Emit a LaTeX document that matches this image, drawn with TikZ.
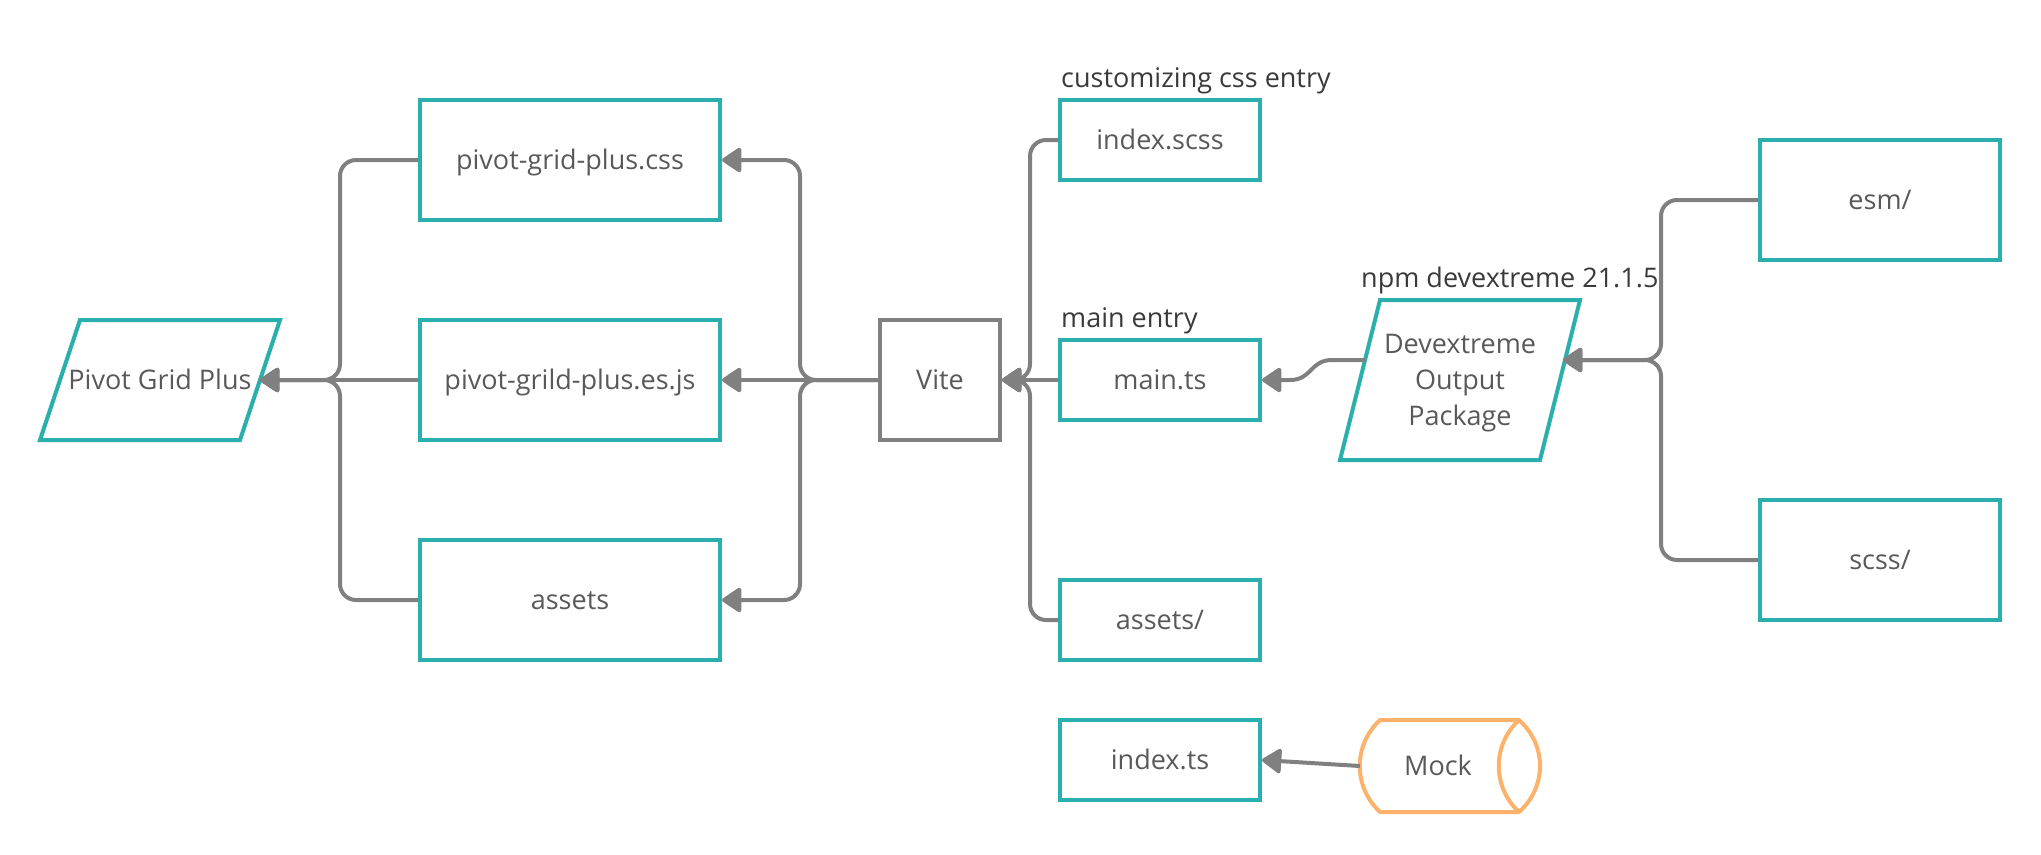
\documentclass[tikz,border=0pt]{standalone}
\usepackage{fontspec}
\setmainfont{Open Sans}
\usetikzlibrary{arrows.meta}
\definecolor{tealc}{RGB}{42,175,172}
\definecolor{linegray}{RGB}{128,128,128}
\definecolor{orngc}{RGB}{252,178,106}
\definecolor{txtc}{RGB}{89,89,89}
\definecolor{lblc}{RGB}{58,58,58}
\newcommand\diagfont{\fontsize{27}{36}\selectfont}
\begin{document}
\begin{tikzpicture}[x=1pt,y=-1pt,
  filebox/.style={draw=tealc, line width=4pt, inner sep=0pt, text=txtc, font=\diagfont,
    text height=26pt, text depth=7pt, minimum width=#1},
  filebox/.default=300pt,
  tall/.style={minimum height=120pt},
  short/.style={minimum height=80pt},
  vitebox/.style={draw=linegray, line width=4pt, inner sep=0pt, text=txtc, font=\diagfont,
    text height=26pt, text depth=7pt, minimum width=120pt, minimum height=120pt},
  plain/.style={inner sep=0pt, text=txtc, font=\diagfont, text height=26pt, text depth=7pt},
  para/.style={draw=tealc, line width=4pt, line join=miter},
  lbl/.style={inner sep=0pt, text=lblc, font=\diagfont, anchor=base west},
  link/.style={draw=linegray, line width=4pt},
  arr/.style={link, -{Triangle[length=21pt,width=27pt,round]}},
  junction/.style={arr, rounded corners=16pt},
  mockline/.style={draw=orngc, line width=4pt, line join=round}
]
\useasboundingbox (0,0) rectangle (2041,854);

% left parallelogram
\draw[para] (80,320) -- (280,320) -- (240,440) -- (40,440) -- cycle;
\node[plain] (pgp) at (160,380) {Pivot Grid Plus};
\coordinate (pgpR) at (260,380);

% output boxes
\node[filebox, tall] (css) at (570,160) {pivot-grid-plus.css};
\node[filebox, tall] (esjs) at (570,380) {pivot-grild-plus.es.js};
\node[filebox, tall] (assets) at (570,600) {assets};

% Vite
\node[vitebox] (vite) at (940,380) {Vite};

% entries
\node[filebox=200pt, short] (scss) at (1160,140) {index.scss};
\node[filebox=200pt, short] (maints) at (1160,380) {main.ts};
\node[filebox=200pt, short] (assetsd) at (1160,620) {assets/};
\node[filebox=200pt, short] (idxts) at (1160,760) {index.ts};

\node[lbl] (lblcss) at (1061,87) {customizing css entry};
\node[lbl] (lblmain) at (1061,327) {main entry};
\node[lbl] (lblnpm) at (1361,287) {npm devextreme 21.1.5};

% Devextreme parallelogram
\draw[para] (1380,300) -- (1580,300) -- (1540,460) -- (1340,460) -- cycle;
\node[inner sep=0pt, text=txtc, font=\diagfont, align=center] (dev) at (1460,383) {Devextreme\\Output\\Package};
\coordinate (devR) at (1563,360);
\coordinate (devL) at (1365,360);

% esm / scss
\node[filebox=240pt, tall] (esm) at (1880,200) {esm/};
\node[filebox=240pt, tall] (scssd) at (1880,560) {scss/};

% Mock cylinder
\draw[mockline] (1380,720) -- (1519,720) .. controls (1547,745) and (1547,787) .. (1519,812)
  -- (1380,812) .. controls (1353,787) and (1353,745) .. (1380,720) -- cycle;
\draw[mockline] (1519,720) .. controls (1492,745) and (1492,787) .. (1519,812);
\node[plain, minimum width=156pt] (mock) at (1438,766) {Mock};

% connectors: outputs to Pivot Grid Plus
\draw[junction] (css.west) -| (340,380) -- (pgpR);
\draw[arr] (esjs.west) -- (pgpR);
\draw[junction] (assets.west) -| (340,380) -- (pgpR);

% Vite to outputs
\draw[junction] (vite.west) -- (800,380) |- (css.east);
\draw[arr] (vite.west) -- (esjs.east);
\draw[junction] (vite.west) -- (800,380) |- (assets.east);

% entries to Vite
\draw[junction] (scss.west) -| (1030,380) -- (vite.east);
\draw[arr] (maints.west) -- (vite.east);
\draw[junction] (assetsd.west) -| (1030,380) -- (vite.east);

% devextreme inputs
\draw[junction] (esm.west) -| (1661,360) -- (devR);
\draw[junction] (scssd.west) -| (1661,360) -- (devR);

% devextreme to main.ts
\draw[arr] (devL) -- (1332,360) .. controls (1310,360) and (1312,380) .. (1290,380) -- (maints.east);

% mock to index.ts
\draw[arr] (mock.west) -- (idxts.east);
\end{tikzpicture}
\end{document}
